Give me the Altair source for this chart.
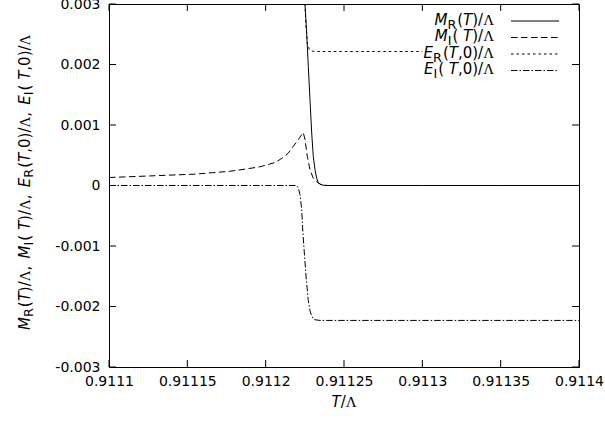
import altair as alt
import pandas as pd

# ---------------- data ----------------
mr_x = [0.91122479, 0.91122511, 0.91122619, 0.91122721, 0.91122830, 0.91122938,
        0.91123040, 0.91123149, 0.91123257, 0.91123360, 0.91123468, 0.91123660,
        0.91123915, 0.91125, 0.9113, 0.91135, 0.9114]
mr_y = [0.00313, 0.00299, 0.00252, 0.00197, 0.00141, 0.00087,
        0.00048, 0.00026, 0.00012, 0.00005, 0.00002, 0.000005,
        0.0, 0.0, 0.0, 0.0, 0.0]

mi_x = [0.9111, 0.911126, 0.9111549, 0.9111772, 0.9111868, 0.9111964, 0.9112060,
        0.9112104, 0.9112144, 0.9112174, 0.9112198, 0.9112219, 0.9112240,
        0.9112251, 0.9112266, 0.9112283, 0.9112304, 0.9112336, 0.9112360,
        0.9112392, 0.91125, 0.9113, 0.91135, 0.9114]
mi_y = [0.000132, 0.000158, 0.000188, 0.000235, 0.00027, 0.00031, 0.00038,
        0.00045, 0.000535, 0.00064, 0.00072, 0.00080, 0.000876,
        0.00076, 0.00048, 0.00026, 0.00012, 0.00004, 0.00001,
        0.0, 0.0, 0.0, 0.0, 0.0]

er_x = [0.9112249, 0.9112251, 0.9112257, 0.9112266, 0.9112279, 0.9112296,
        0.9112347, 0.91125, 0.91127, 0.9113]
er_y = [0.00310, 0.00299, 0.00265, 0.00235, 0.002243, 0.00222,
        0.002215, 0.002215, 0.002215, 0.002215]

ei_x = [0.9111, 0.91115, 0.9112, 0.9112198, 0.9112208, 0.9112219, 0.9112230,
        0.9112236, 0.9112245, 0.9112257, 0.9112272, 0.9112283, 0.9112294,
        0.9112304, 0.9112315, 0.9112347, 0.91125, 0.9113, 0.91135, 0.9114]
ei_y = [0.0, 0.0, 0.0, 0.0, -0.00004, -0.00015, -0.00040,
        -0.00070, -0.00105, -0.00148, -0.00190, -0.00207, -0.00216,
        -0.00220, -0.00222, -0.00223, -0.00223, -0.00223, -0.00223, -0.00223]

x_ticks = [0.9111, 0.91115, 0.9112, 0.91125, 0.9113, 0.91135, 0.9114]
y_ticks = [-0.003, -0.002, -0.001, 0.0, 0.001, 0.002, 0.003]

# legend / title text pieces: (text, style)  i=italic, s=subscript, n=normal, g=greek
legend_rows = [
    [("M", "i"), ("R", "s"), ("(", "n"), ("T", "i"), (")/", "n"), ("Λ", "g")],
    [("M", "i"), ("I", "s"), (" (", "n"), ("T", "i"), (")/", "n"), ("Λ", "g")],
    [("E", "i"), ("R", "s"), ("(", "n"), ("T", "i"), (",0)/", "n"), ("Λ", "g")],
    [("E", "i"), ("I", "s"), (" (", "n"), ("T", "i"), (",0)/", "n"), ("Λ", "g")],
]
legend_dash = [None, [6.5, 3.5], [2.5, 3], [6.5, 2, 1.5, 2]]
x_title = [("T", "i"), ("/", "n"), ("Λ", "g")]
y_title = []
for r in legend_rows:
    if y_title:
        y_title.append((", ", "n"))
    y_title.extend(r)

# ---------------- layout constants ----------------
W, H = 470, 363
FONT = "DejaVu Sans"
GFONT = "Liberation Serif"
FS = 15
TICKFS = 14
SUB = 0.85

WID = {'M': 0.863, 'E': 0.632, 'R': 0.695, 'I': 0.295, 'T': 0.611, '(': 0.390,
       ')': 0.390, '/': 0.337, ',': 0.318, '0': 0.636, ' ': 0.318, 'Λ': 0.722}


def piece_width(txt, st, size):
    fs = size * SUB if st == "s" else size
    w = sum(WID.get(c, 0.6) for c in txt) * fs
    if st == "s":
        w += 1.0
    if txt == ", ":
        w += 2.5
    return w


def layout(pieces, x0, y0, size, rotated=False):
    rows = []
    pos = 0.0
    for txt, st in pieces:
        fs = size * SUB if st == "s" else size
        if rotated:
            px, py = x0 + (3 if st == "s" else 0), y0 - pos
        else:
            px, py = x0 + pos, y0 + (4 if st == "s" else 0)
        rows.append(dict(t=txt, x=px, y=py, size=fs, st=st, angle=270 if rotated else 0))
        pos += piece_width(txt, st, size)
    return rows


def total_width(pieces, size):
    return sum(piece_width(t, s, size) for t, s in pieces)


text_rows = []
leg_line_y = [17, 33.5, 50, 66.5]
for row, ly in zip(legend_rows, leg_line_y):
    text_rows += layout(row, 385 - total_width(row, FS), ly + 3.5, FS)
text_rows += layout(x_title, 235 - total_width(x_title, FS) / 2, 402.5, FS)
text_rows += layout(y_title, -79, 326, FS, rotated=True)
tdf = pd.DataFrame(text_rows)

# ---------------- chart ----------------
xs = alt.Scale(domain=[0.9111, 0.9114], nice=False, zero=False)
ys = alt.Scale(domain=[-0.003, 0.003], nice=False, zero=False)

xaxis = alt.Axis(values=x_ticks, labelExpr="format(datum.value, '.5~f')",
                 ticks=False, domain=False, grid=False, title=None,
                 labelFont=FONT, labelFontSize=TICKFS, labelColor="black",
                 labelPadding=7, labelFlush=False, labelOverlap=False)
yaxis = alt.Axis(values=y_ticks,
                 labelExpr="replace(format(datum.value, '.3~f'), '\u2212', '-')",
                 ticks=False, domain=False, grid=False, title=None,
                 labelFont=FONT, labelFontSize=TICKFS, labelColor="black",
                 labelPadding=9, labelFlush=False, labelOverlap=False)

layers = []
series = [(mr_x, mr_y, None), (mi_x, mi_y, [6.5, 3.5]),
          (er_x, er_y, [2.5, 3]), (ei_x, ei_y, [6.5, 2, 1.5, 2])]
for xv, yv, dash in series:
    df = pd.DataFrame({"x": xv, "y": yv})
    kw = dict(color="black", strokeWidth=1, clip=True)
    if dash:
        kw["strokeDash"] = dash
    layers.append(alt.Chart(df).mark_line(**kw).encode(
        x=alt.X("x:Q", scale=xs, axis=xaxis),
        y=alt.Y("y:Q", scale=ys, axis=yaxis)))

xt = pd.DataFrame({"x": x_ticks})
yt = pd.DataFrame({"y": y_ticks})
for y0, y1 in [(H, H - 7), (0, 7)]:
    layers.append(alt.Chart(xt).mark_rule(color="black", strokeWidth=1).encode(
        x=alt.X("x:Q", scale=xs, axis=xaxis), y=alt.value(y0), y2=alt.value(y1)))
for x0, x1 in [(0, 7), (W, W - 7)]:
    layers.append(alt.Chart(yt).mark_rule(color="black", strokeWidth=1).encode(
        y=alt.Y("y:Q", scale=ys, axis=yaxis), x=alt.value(x0), x2=alt.value(x1)))

# legend sample lines
one = pd.DataFrame({"k": [0]})
for ly, dash in zip(leg_line_y, legend_dash):
    kw = dict(color="black", strokeWidth=1)
    if dash:
        kw["strokeDash"] = dash
    layers.append(alt.Chart(one).mark_rule(**kw).encode(
        x=alt.value(402), x2=alt.value(450), y=alt.value(ly)))

# text pieces
for st, font, fstyle in [("n", FONT, "normal"), ("s", FONT, "normal"),
                         ("i", FONT, "italic"), ("g", GFONT, "normal")]:
    sub = tdf[tdf.st == st]
    layers.append(alt.Chart(sub).mark_text(
        align="left", baseline="alphabetic", font=font, fontStyle=fstyle,
        color="black").encode(
        x=alt.X("x:Q", scale=None), y=alt.Y("y:Q", scale=None),
        text="t:N", size=alt.Size("size:Q", scale=None),
        angle=alt.Angle("angle:Q", scale=None)))

chart = alt.layer(*layers).properties(
    width=W, height=H,
    padding={"left": 109, "top": 4, "right": 26, "bottom": 54},
    autosize=alt.AutoSizeParams(type="none"),
    background="white",
).configure_view(stroke="black", strokeWidth=1)

chart.save("out.html", embed_options={"renderer": "svg", "actions": False})
